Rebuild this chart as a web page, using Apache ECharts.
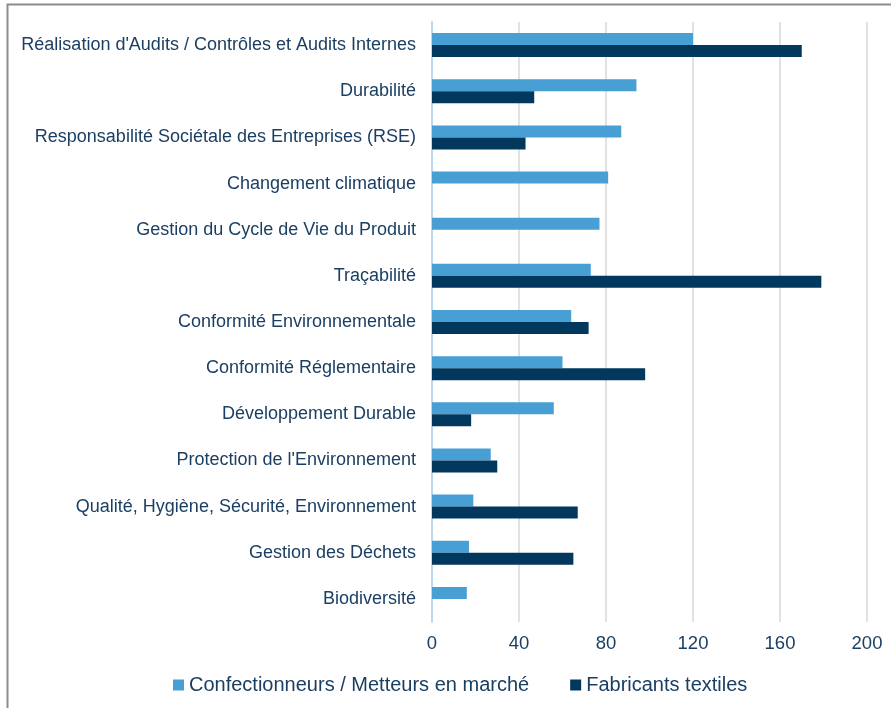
<!DOCTYPE html>
<html>
<head>
<meta charset="utf-8">
<script src="https://cdn.jsdelivr.net/npm/echarts@6/dist/echarts.min.js"></script>
<style>html,body{margin:0;padding:0;background:#fff;}#c{width:891px;height:708px;}</style>
</head>
<body>
<div id="c"></div>
<script>
const categories = [
  "Réalisation d'Audits / Contrôles et Audits Internes",
  "Durabilité",
  "Responsabilité Sociétale des Entreprises (RSE)",
  "Changement climatique",
  "Gestion du Cycle de Vie du Produit",
  "Traçabilité",
  "Conformité Environnementale",
  "Conformité Réglementaire",
  "Développement Durable",
  "Protection de l'Environnement",
  "Qualité, Hygiène, Sécurité, Environnement",
  "Gestion des Déchets",
  "Biodiversité"
];
const seriesNames = ["Confectionneurs / Metteurs en marché", "Fabricants textiles"];
const confectionneurs = [120, 94, 87, 81, 77, 73, 64, 60, 56, 27, 19, 17, 16];
const fabricants = [170, 47, 43, 0, 0, 179, 72, 98, 18, 30, 67, 65, 0];
const xTicks = { min: 0, max: 200, interval: 40 };

const textColor = '#1b3f63';
const chart = echarts.init(document.getElementById('c'), null, { renderer: 'canvas' });
chart.setOption({
  animation: false,
  backgroundColor: '#ffffff',
  graphic: [{
    type: 'rect',
    shape: { x: 7.5, y: 4.5, width: 1000, height: 1000 },
    style: { fill: 'none', stroke: '#8c8c8c', lineWidth: 2 },
    silent: true
  }],
  grid: { left: 432, right: 24, top: 22, bottom: 86, containLabel: false },
  legend: {
    data: seriesNames,
    left: 168,
    top: 670,
    itemWidth: 11,
    itemHeight: 11,
    itemGap: 41,
    icon: 'rect',
    textStyle: { fontFamily: 'Liberation Sans, Arial, sans-serif', fontSize: 20, color: textColor }
  },
  xAxis: {
    type: 'value',
    min: xTicks.min, max: xTicks.max, interval: xTicks.interval,
    axisLine: { show: false },
    axisTick: { show: false },
    splitLine: { show: true, lineStyle: { color: '#d9d9d9', width: 1.5 } },
    axisLabel: { margin: 12, fontFamily: 'Liberation Sans, Arial, sans-serif', fontSize: 18.5, color: textColor }
  },
  yAxis: {
    type: 'category',
    data: categories,
    inverse: true,
    axisLine: { show: true, lineStyle: { color: '#bdd7ee', width: 2 } },
    axisTick: { show: false },
    axisLabel: { margin: 16, fontFamily: 'Liberation Sans, Arial, sans-serif', fontSize: 18, color: textColor }
  },
  series: [
    {
      name: seriesNames[0], type: 'bar', data: confectionneurs,
      barGap: '0%', barCategoryGap: '48%',
      itemStyle: { color: '#479fd3' }
    },
    {
      name: seriesNames[1], type: 'bar', data: fabricants,
      barGap: '0%', barCategoryGap: '48%',
      itemStyle: { color: '#02375e' }
    }
  ]
});
</script>
</body>
</html>
